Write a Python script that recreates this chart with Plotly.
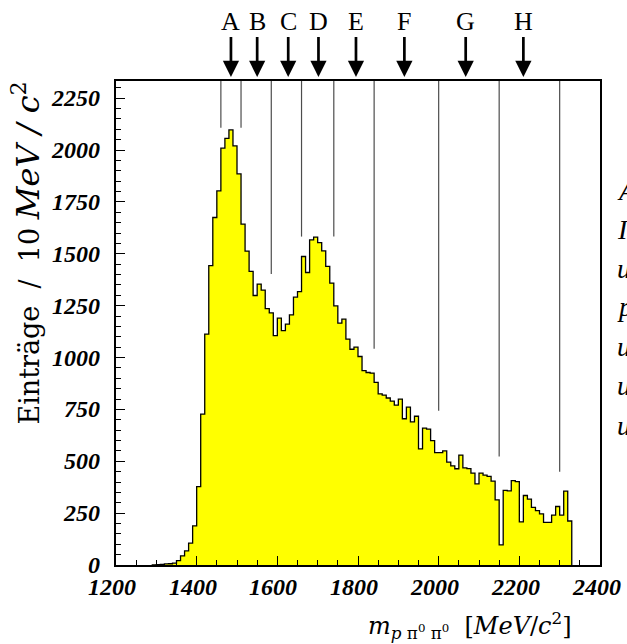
import plotly.graph_objects as go

# p pi0 pi0 invariant mass spectrum, 10 MeV/c^2 bins (lower bin edges)
bin_lo = list(range(1290, 2330, 10))
counts = [
    1, 2, 3, 5, 6, 9, 21, 44, 68, 105,            # 1290-1380
    189, 378, 727, 1113, 1443, 1675, 1803, 2009,  # 1390-1460
    2056, 2097, 2020, 1885, 1643, 1513, 1415,     # 1470-1530
    1299, 1354, 1325, 1236, 1215, 1106, 1190,     # 1540-1600
    1130, 1161, 1206, 1291, 1318, 1487, 1410,     # 1610-1670
    1567, 1580, 1554, 1514, 1439, 1359, 1249,     # 1680-1740
    1166, 1185, 1089, 1040, 1050, 1005, 937,      # 1750-1810
    928, 925, 880, 825, 819, 805, 790, 771,       # 1820-1890
    800, 705, 761, 690, 717, 560, 660, 655,       # 1900-1970
    600, 542, 542, 550, 496, 478, 464, 530,       # 1980-2050
    468, 465, 443, 391, 443, 433, 427, 404,       # 2060-2130
    314, 97, 360, 357, 407, 402, 208, 335,        # 2140-2210
    318, 278, 262, 246, 205, 205, 240, 282,       # 2220-2290
    240, 356, 212,                                # 2300-2320
]
bin_width = 10

# mass-band boundaries and the height where each boundary line ends
region_edges = [1460, 1510, 1585, 1660, 1740, 1840, 2000, 2150, 2300]
edge_line_bottom = [2108, 2108, 1403, 1583, 1583, 1042, 743, 523, 450]

# band labels and arrow positions
band_labels = ["A", "B", "C", "D", "E", "F", "G", "H"]
band_arrow_x = [1485, 1550, 1627, 1702, 1795, 1915, 2067, 2210]

x_range = [1200, 2400]
y_range = [0, 2333]
x_ticks = list(range(1200, 2401, 200))
y_ticks = list(range(0, 2251, 250))

# running text of the page beside the figure, cut at the right border
side_letters = ["A", "I", "u", "p", "u", "u", "u"]
side_letter_y = [190, 229, 268, 306, 346, 385, 425]   # pixel rows

W, H = 627, 644
ML, MR, MT, MB = 116, 27, 81, 79
PW, PH = W - ML - MR, H - MT - MB


def px_x(px):
    return (px - ML) / PW


def px_y(py):
    return (H - MB - py) / PH


# histogram outline as a step curve closed down to zero at both ends
last_edge = bin_lo[-1] + bin_width
xs = [bin_lo[0]] + bin_lo + [last_edge, last_edge]
ys = [0] + counts + [counts[-1], 0]

fig = go.Figure()
fig.add_trace(go.Scatter(
    x=xs, y=ys, mode="lines", line_shape="hv",
    line=dict(color="black", width=1.3),
    fill="tozeroy", fillcolor="#ffff00",
    hoverinfo="skip", showlegend=False,
))

shapes = []
for xe, yb in zip(region_edges, edge_line_bottom):
    shapes.append(dict(type="line", xref="x", yref="y",
                       x0=xe, x1=xe, y0=yb, y1=y_range[1],
                       line=dict(color="#4d4d4d", width=1.2)))

serif = "Liberation Serif"
wide_serif = "DejaVu Serif"
tick_font = dict(family=serif, size=24, color="black", weight="bold", style="italic")

annotations = []
for lab, xa in zip(band_labels, band_arrow_x):
    annotations.append(dict(
        x=xa, xref="x", y=px_y(77), yref="paper",
        text=lab, showarrow=True, ax=0, ay=-56,
        arrowhead=2, arrowsize=1.2, arrowwidth=2.7, arrowcolor="black",
        font=dict(family=serif, size=26, color="black"),
    ))

# tick labels placed on the axis scales
for v in x_ticks:
    annotations.append(dict(
        x=v, xref="x", y=px_y(587), yref="paper",
        xanchor="center", yanchor="middle", xshift=-4, showarrow=False,
        text=str(v), font=tick_font,
    ))
for v in y_ticks:
    annotations.append(dict(
        x=px_x(102), xref="paper", y=v, yref="y",
        xanchor="right", yanchor="middle", showarrow=False,
        text=str(v), font=tick_font,
    ))

annotations.append(dict(
    xref="paper", yref="paper", x=px_x(25), y=px_y(80),
    xanchor="center", yanchor="top", textangle=-90, showarrow=False,
    text=("Einträge  /  10 "
          "<span style='font-size:32px'><i>MeV</i> <i>/</i> <i>c</i><sup>2</sup></span>"),
    font=dict(family=wide_serif, size=27, color="black"),
))
annotations.append(dict(
    xref="paper", yref="paper", x=px_x(574), y=px_y(625),
    xanchor="right", yanchor="middle", showarrow=False,
    text=("<i>m</i><sub><i>p</i> π<sup>0</sup> π<sup>0</sup></sub>  "
          "[<i>MeV</i>/<i>c</i><sup>2</sup>]"),
    font=dict(family=wide_serif, size=24, color="black"),
))

for ch, py in zip(side_letters, side_letter_y):
    annotations.append(dict(
        xref="paper", yref="paper", x=px_x(615), y=px_y(py),
        xanchor="left", yanchor="middle", showarrow=False,
        text="<i>" + ch + "</i>",
        font=dict(family=serif, size=28, color="black"),
    ))

fig.update_layout(
    width=W, height=H,
    margin=dict(l=ML, r=MR, t=MT, b=MB),
    paper_bgcolor="white", plot_bgcolor="white",
    font=dict(family=serif),
    shapes=shapes, annotations=annotations,
    xaxis=dict(
        range=x_range, tickvals=x_ticks, showticklabels=False,
        ticks="inside", ticklen=9, tickwidth=1.3, tickcolor="black",
        minor=dict(ticks="inside", ticklen=5, dtick=50, tick0=1200, tickcolor="black", tickwidth=1),
        showline=True, mirror=True, linecolor="black", linewidth=1.5,
        showgrid=False, zeroline=False,
    ),
    yaxis=dict(
        range=y_range, tickvals=y_ticks, showticklabels=False,
        ticks="inside", ticklen=9, tickwidth=1.3, tickcolor="black",
        minor=dict(ticks="inside", ticklen=5, dtick=50, tick0=0, tickcolor="black", tickwidth=1),
        showline=True, mirror=True, linecolor="black", linewidth=1.5,
        showgrid=False, zeroline=False,
    ),
)

fig.write_html("out.html")
